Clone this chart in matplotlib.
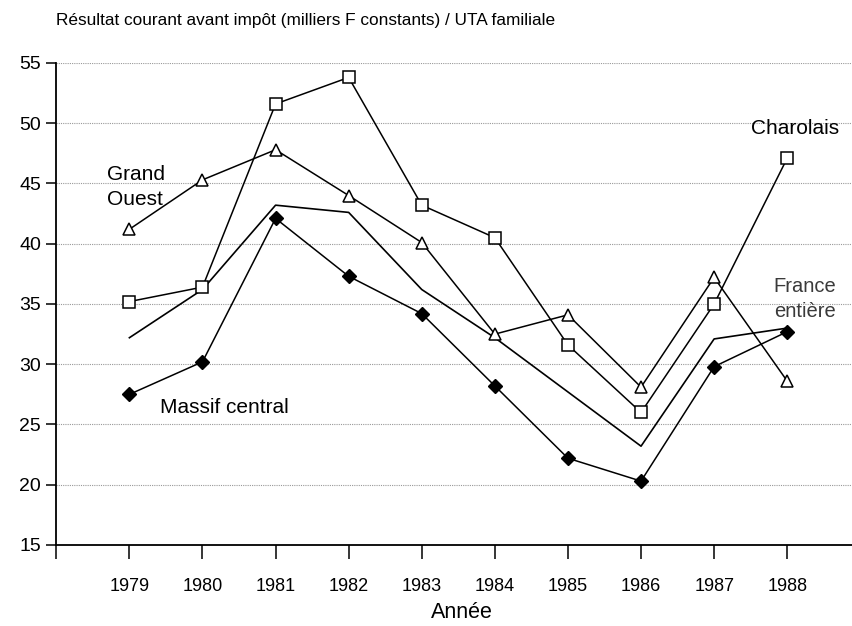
import matplotlib
matplotlib.use("Agg")
import matplotlib.pyplot as plt

plt.rcParams['font.family'] = ['Liberation Sans', 'DejaVu Sans']

years = [1979, 1980, 1981, 1982, 1983, 1984, 1985, 1986, 1987, 1988]
charolais = [35.2, 36.4, 51.6, 53.8, 43.2, 40.5, 31.6, 26.0, 35.0, 47.1]
grand_ouest = [41.2, 45.3, 47.8, 44.0, 40.1, 32.5, 34.1, 28.1, 37.2, 28.6]
france_entiere = [32.2, 36.2, 43.2, 42.6, 36.2, 32.2, 27.7, 23.2, 32.1, 33.0]
massif_central = [27.5, 30.2, 42.1, 37.3, 34.2, 28.2, 22.2, 20.3, 29.8, 32.7]

fig = plt.figure(figsize=(8.53, 6.26), dpi=100)
ax = fig.add_axes([0.066, 0.1294, 0.934, 0.770])

# horizontal dotted grid
for v in range(20, 56, 5):
    ax.axhline(v, color='#999999', lw=0.8, ls=(0, (1, 1)), zorder=0)

ax.plot(years, france_entiere, color='black', lw=1.2, zorder=2)
ax.plot(years, massif_central, color='black', lw=1.1, marker='D', ms=7.5,
        mfc='black', mec='black', zorder=3)
ax.plot(years, grand_ouest, color='black', lw=1.1, marker='^', ms=9,
        mfc='white', mec='black', mew=1.1, zorder=3)
ax.plot(years, charolais, color='black', lw=1.1, marker='s', ms=8.5,
        mfc='white', mec='black', mew=1.1, zorder=4)

ax.text(1978.7, 44.7, 'Grand\nOuest', fontsize=15, va='center', ha='left',
        linespacing=1.38)
ax.text(1987.5, 49.6, 'Charolais', fontsize=15, va='center', ha='left')
ax.text(1988.24, 35.4, 'France\nentière', fontsize=14.5, va='center', ha='center',
        color='#3a3a3a', linespacing=1.4)
ax.text(1979.42, 26.4, 'Massif central', fontsize=15, va='center', ha='left')

ax.set_xlim(1978, 1988.9)
ax.set_ylim(15, 55)
ax.set_xticks(range(1978, 1989))
ax.set_xticklabels([''] + [str(y) for y in years], fontsize=13)
ax.set_yticks(range(15, 56, 5))
ax.set_yticklabels([str(v) for v in range(15, 56, 5)], fontsize=14)
ax.tick_params(axis='x', length=10, width=1.1, pad=14)
ax.tick_params(axis='y', length=7, width=1.1, pad=4)
ax.spines['top'].set_visible(False)
ax.spines['right'].set_visible(False)
ax.spines['left'].set_linewidth(1.3)
ax.spines['bottom'].set_linewidth(1.3)

ax.set_xlabel('Année', fontsize=15.5)
ax.xaxis.set_label_coords(0.509, -0.118)
fig.text(0.0657, 0.968, 'Résultat courant avant impôt (milliers F constants) / UTA familiale',
         fontsize=12.4, ha='left', va='center')

fig.savefig('out.png', dpi=100)
